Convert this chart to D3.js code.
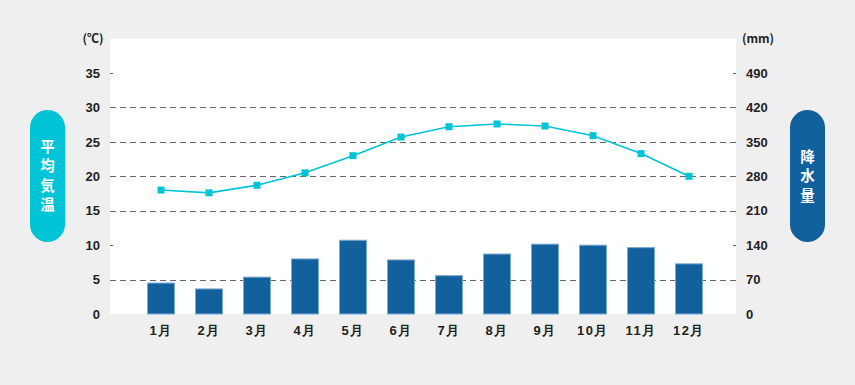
<!DOCTYPE html>
<html lang="ja">
<head>
<meta charset="utf-8">
<script src="https://cdn.jsdelivr.net/npm/d3@7"></script>
<style>
  html, body { margin: 0; padding: 0; background: #efefef; }
  svg { display: block; font-family: "Noto Sans CJK JP", "Noto Sans", sans-serif; }
  .tick-label { font-size: 13px; font-weight: 700; fill: #222; }
</style>
</head>
<body>
<div id="chart"></div>
<script>
// データ
const months = ['1月', '2月', '3月', '4月', '5月', '6月', '7月', '8月', '9月', '10月', '11月', '12月'];
const temperature = [18.0, 17.6, 18.7, 20.5, 23.0, 25.7, 27.2, 27.6, 27.3, 25.9, 23.3, 20.0];
const rainfall = [64, 52, 76, 113, 151, 111, 79, 123, 143, 141, 136, 103];
const tempTicks = [0, 5, 10, 15, 20, 25, 30, 35];
const rainTicks = [0, 70, 140, 210, 280, 350, 420, 490];
const gridTicks = [5, 15, 20, 25, 30];

const width = 855, height = 385;
const plot = { left: 110, right: 736, top: 38.6, bottom: 314 };

const svg = d3.select('#chart').append('svg')
  .attr('width', width)
  .attr('height', height);

svg.append('rect')
  .attr('width', width).attr('height', height)
  .attr('fill', '#efefef');

// 白い描画エリア
svg.append('rect')
  .attr('x', plot.left).attr('y', plot.top)
  .attr('width', plot.right - plot.left)
  .attr('height', plot.bottom - plot.top)
  .attr('fill', '#fff');

// スケール
const x = d3.scaleBand()
  .domain(months)
  .range([137, 713])
  .paddingInner(0.4167)
  .paddingOuter(0.2083);

const yTemp = d3.scaleLinear().domain([0, 40]).range([plot.bottom, plot.top]);
const yRain = d3.scaleLinear().domain([0, 560]).range([plot.bottom, plot.top]);

// グリッド線（破線）
svg.append('g')
  .selectAll('line')
  .data(gridTicks)
  .join('line')
  .attr('x1', plot.left).attr('x2', plot.right)
  .attr('y1', d => Math.round(yTemp(d)) + 0.5)
  .attr('y2', d => Math.round(yTemp(d)) + 0.5)
  .attr('stroke', '#666')
  .attr('stroke-width', 1)
  .attr('stroke-dasharray', '6,4');

// 目盛り（短い線）
svg.append('g')
  .selectAll('line')
  .data(tempTicks.filter(d => d > 0))
  .join('line')
  .attr('x1', plot.left).attr('x2', plot.left + 3)
  .attr('y1', d => Math.round(yTemp(d)) + 0.5)
  .attr('y2', d => Math.round(yTemp(d)) + 0.5)
  .attr('stroke', '#666');

svg.append('g')
  .selectAll('line')
  .data(rainTicks.filter(d => d > 0))
  .join('line')
  .attr('x1', plot.right - 3).attr('x2', plot.right)
  .attr('y1', d => Math.round(yRain(d)) + 0.5)
  .attr('y2', d => Math.round(yRain(d)) + 0.5)
  .attr('stroke', '#666');

// 左軸ラベル
const leftAxis = d3.axisLeft(yTemp).tickValues(tempTicks).tickSize(0).tickPadding(10);
const gl = svg.append('g').attr('transform', `translate(${plot.left},0)`).call(leftAxis);
gl.select('.domain').remove();
gl.selectAll('text').attr('class', 'tick-label').attr('font-family', null).attr('font-size', null);

// 右軸ラベル
const rightAxis = d3.axisRight(yRain).tickValues(rainTicks).tickSize(0).tickPadding(10);
const gr = svg.append('g').attr('transform', `translate(${plot.right},0)`).call(rightAxis);
gr.select('.domain').remove();
gr.selectAll('text').attr('class', 'tick-label').attr('font-family', null).attr('font-size', null);

// 単位
svg.append('text')
  .attr('class', 'tick-label')
  .attr('x', 93).attr('y', 43)
  .attr('text-anchor', 'middle')
  .style('font-size', '12px')
  .text('(℃)');

svg.append('text')
  .attr('class', 'tick-label')
  .attr('x', 758).attr('y', 43)
  .attr('text-anchor', 'middle')
  .style('font-size', '12px')
  .text('(mm)');

// 棒グラフ（降水量）
svg.append('g')
  .selectAll('rect')
  .data(rainfall)
  .join('rect')
  .attr('x', (d, i) => x(months[i]) + 0.5)
  .attr('y', d => yRain(d) + 0.5)
  .attr('width', x.bandwidth() - 1)
  .attr('height', d => plot.bottom - yRain(d) - 0.5)
  .attr('fill', '#13619c')
  .attr('stroke', '#7ea9cf')
  .attr('stroke-width', 1);

// 折れ線（平均気温）
const line = d3.line()
  .x((d, i) => x(months[i]) + x.bandwidth() / 2)
  .y(d => yTemp(d));

svg.append('path')
  .datum(temperature)
  .attr('d', line)
  .attr('fill', 'none')
  .attr('stroke', '#00c4d6')
  .attr('stroke-width', 1.6);

svg.append('g')
  .selectAll('rect')
  .data(temperature)
  .join('rect')
  .attr('x', (d, i) => x(months[i]) + x.bandwidth() / 2 - 3.5)
  .attr('y', d => yTemp(d) - 3.5)
  .attr('width', 7).attr('height', 7)
  .attr('fill', '#00c4d6');

// X軸ラベル
const bottomAxis = d3.axisBottom(x).tickSize(0).tickPadding(12);
const gb = svg.append('g').attr('transform', `translate(0,${plot.bottom})`).call(bottomAxis);
gb.select('.domain').remove();
gb.selectAll('text').attr('class', 'tick-label').attr('font-family', null).attr('font-size', null)
  .style('font-size', '13px')
  .style('letter-spacing', '1.5px');

// 縦書きバッジ
function badge(cx, label, color) {
  const g = svg.append('g');
  g.append('rect')
    .attr('x', cx - 17.5).attr('y', 110)
    .attr('width', 35).attr('height', 132)
    .attr('rx', 17.5)
    .attr('fill', color);
  const chars = Array.from(label);
  const step = 19.5;
  const mid = 176;
  g.selectAll('text')
    .data(chars)
    .join('text')
    .attr('x', cx)
    .attr('y', (d, i) => mid + (i - (chars.length - 1) / 2) * step)
    .attr('dy', '0.36em')
    .attr('text-anchor', 'middle')
    .attr('fill', '#fff')
    .style('font-size', '14.5px')
    .style('font-weight', 700)
    .text(d => d);
}

badge(47.5, '平均気温', '#00c4d6');
badge(807.5, '降水量', '#13619c');
</script>
</body>
</html>
